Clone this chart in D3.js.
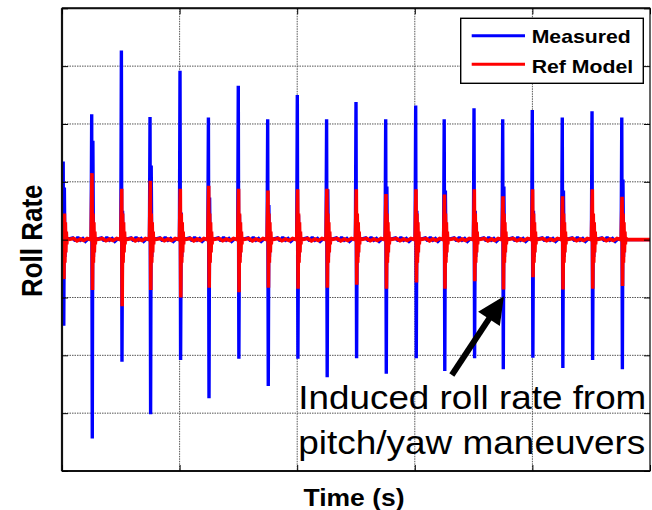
<!DOCTYPE html>
<html>
<head>
<meta charset="utf-8">
<script src="https://cdn.jsdelivr.net/npm/d3@7"></script>
<style>
  html, body { margin: 0; padding: 0; background: #fff; }
  svg { display: block; }
  text { font-family: "Liberation Sans", Arial, Helvetica, sans-serif; }
</style>
</head>
<body>
<svg id="chart" width="652" height="510"></svg>
<script>
// ---- Data -------------------------------------------------------------
// Times (s) at which each pitch/yaw maneuver starts
const eventTimes = [0.2, 5.05, 10.1, 14.97, 20.07, 24.9, 29.98, 34.98, 40.02, 45.0,
                    50.0, 55.05, 60.15, 65.0, 70.07, 74.95, 79.98, 85.08, 90.14, 95.2];

// Measured roll rate: positive peak, negative peak and secondary rebound per maneuver
const measuredPeak     = [1.35, 2.17, 3.27, 2.12, 2.92, 2.11, 2.66, 2.08, 2.50, 2.08,
                          2.38, 2.08, 2.32, 2.08, 2.27, 2.08, 2.24, 2.11, 2.22, 2.11];
const measuredTrough   = [-1.49, -3.44, -2.11, -3.02, -2.08, -2.74, -2.06, -2.53, -2.06, -2.38,
                          -2.05, -2.32, -2.05, -2.27, -2.05, -2.24, -2.04, -2.22, -2.08, -2.24];
const measuredRebound  = [0.90, 1.71, 0.50, 1.28, 0.47, 0.73, 0.43, 0.60, 0.42, 0.87,
                          0.38, 0.92, 0.50, 0.85, 0.50, 0.92, 0.50, 0.85, 0.38, 1.04];

// Reference model roll rate: positive and negative peak per maneuver
const refPeak   = [0.36, 1.15, 0.88, 1.02, 0.88, 0.93, 0.88, 0.85, 0.87, 0.88,
                   0.87, 0.79, 0.87, 0.78, 0.87, 0.75, 0.87, 0.75, 0.87, 0.74];
const refTrough = [-0.68, -0.87, -1.15, -0.87, -1.00, -0.83, -0.91, -0.83, -0.85, -0.83,
                   -0.78, -0.85, -0.74, -0.85, -0.72, -0.86, -0.65, -0.86, -0.85, -0.80];

// Decaying oscillation that follows each model peak
const refRinging = [0.45, -0.40, 0.30, -0.22, 0.14, -0.08, 0.04];
const measuredRinging = [-0.30, 0.12, -0.04];

// Small sensor ripple on the zero line between maneuvers
const measuredRipple = [0.03, -0.02, 0.04, -0.01, 0.02, -0.03, 0.01];
const refRipple      = [0.02, -0.02, 0.01, -0.015, 0.02];

// Axis ticks (labels hidden)
const timeTicks = [0, 20, 40, 60, 80, 100];
const rateTicks = [-4, -3, -2, -1, 0, 1, 2, 3, 4];

// Annotation arrow (time, rate): tail -> tip
const arrowTail = [66.3, -2.34];
const arrowTip  = [75.15, -0.98];

// ---- Layout -----------------------------------------------------------
const svg = d3.select("#chart");
const plot = { left: 62, right: 650, top: 8.3, bottom: 471 };

const x = d3.scaleLinear().domain([0, 100]).range([plot.left, plot.right]);
const y = d3.scaleLinear().domain([-4, 4]).range([plot.bottom, plot.top]);

svg.append("defs").append("clipPath").attr("id", "plotClip")
  .append("rect")
  .attr("x", plot.left).attr("y", plot.top)
  .attr("width", plot.right - plot.left).attr("height", plot.bottom - plot.top);

// ---- Grid -------------------------------------------------------------
const grid = svg.append("g").attr("class", "grid");
grid.selectAll("line.v").data(timeTicks.slice(1, -1)).enter().append("line")
  .attr("x1", d => x(d)).attr("x2", d => x(d))
  .attr("y1", plot.top).attr("y2", plot.bottom)
  .attr("stroke", "#555").attr("stroke-width", 1).attr("stroke-dasharray", "1.5,1");
grid.selectAll("line.h").data(rateTicks.slice(1, -1)).enter().append("line")
  .attr("y1", d => y(d)).attr("y2", d => y(d))
  .attr("x1", plot.left).attr("x2", plot.right)
  .attr("stroke", "#555").attr("stroke-width", 1).attr("stroke-dasharray", "1.5,1");

// ---- Series -----------------------------------------------------------
function buildSeries(peaks, troughs, extra, ringing, ripple, peakOffset, step) {
  const pts = [[0, 0]];
  eventTimes.forEach((t, i) => {
    // ripple on the flat section leading up to this maneuver
    const prevEnd = i === 0 ? 0 : eventTimes[i - 1] + 1.2;
    const gap = t - 0.2 - prevEnd;
    if (gap > 0) {
      ripple.forEach((v, k) => pts.push([prevEnd + gap * (k + 1) / (ripple.length + 1), v]));
    }
    pts.push([t - 0.1, 0]);
    pts.push([t + peakOffset, peaks[i]]);
    pts.push([t + peakOffset + step, troughs[i]]);
    let tt = t + peakOffset + step;
    if (extra) { tt += step; pts.push([tt, extra[i]]); }
    ringing.forEach(v => { tt += step; pts.push([tt, v]); });
    pts.push([tt + step, 0]);
  });
  pts.push([100, 0]);
  return pts;
}

const measuredPts = buildSeries(measuredPeak, measuredTrough, measuredRebound,
                                measuredRinging, measuredRipple, 0, 0.1);
const refPts = buildSeries(refPeak, refTrough, null,
                           refRinging, refRipple, 0.05, 0.08);

const line = d3.line().x(d => x(d[0])).y(d => y(d[1]));

const series = svg.append("g").attr("clip-path", "url(#plotClip)");
series.append("path").datum(measuredPts)
  .attr("d", line).attr("fill", "none")
  .attr("stroke", "#0000ff").attr("stroke-width", 3.4)
  .attr("stroke-linejoin", "miter").attr("stroke-miterlimit", 1.5);
series.append("path").datum(refPts)
  .attr("d", line).attr("fill", "none")
  .attr("stroke", "#ff0000").attr("stroke-width", 3.6)
  .attr("stroke-linejoin", "miter").attr("stroke-miterlimit", 1.5);

// ---- Frame and ticks --------------------------------------------------
const frame = svg.append("g");
frame.append("rect")
  .attr("x", plot.left).attr("y", plot.top)
  .attr("width", plot.right - plot.left).attr("height", plot.bottom - plot.top)
  .attr("fill", "none").attr("stroke", "#000").attr("stroke-width", 1.2);
frame.append("line").attr("x1", plot.left).attr("x2", plot.left)
  .attr("y1", plot.top).attr("y2", plot.bottom).attr("stroke", "#111").attr("stroke-width", 2.2);
frame.append("line").attr("x1", plot.left).attr("x2", plot.right)
  .attr("y1", plot.bottom).attr("y2", plot.bottom).attr("stroke", "#111").attr("stroke-width", 2.2);
frame.append("line").attr("x1", plot.left).attr("x2", plot.right)
  .attr("y1", plot.top).attr("y2", plot.top).attr("stroke", "#111").attr("stroke-width", 2);

const tickLen = 6;
const axLeft = d3.axisLeft(y).tickValues(rateTicks).tickSize(-tickLen).tickFormat("");
const axRight = d3.axisRight(y).tickValues(rateTicks).tickSize(-tickLen).tickFormat("");
const axBottom = d3.axisBottom(x).tickValues(timeTicks).tickSize(-tickLen).tickFormat("");
const axTop = d3.axisTop(x).tickValues(timeTicks).tickSize(-tickLen).tickFormat("");
[[axLeft, `translate(${plot.left},0)`], [axRight, `translate(${plot.right},0)`],
 [axBottom, `translate(0,${plot.bottom})`], [axTop, `translate(0,${plot.top})`]]
  .forEach(([ax, tr]) => {
    const g = svg.append("g").attr("transform", tr).call(ax);
    g.select(".domain").remove();
    g.selectAll(".tick line").attr("stroke", "#000").attr("stroke-width", 1);
  });

// ---- Axis titles ------------------------------------------------------
svg.append("text")
  .attr("x", 303.5).attr("y", 505.5)
  .attr("font-size", 24).attr("font-weight", "bold")
  .attr("textLength", 101).attr("lengthAdjust", "spacingAndGlyphs")
  .text("Time (s)");

svg.append("text")
  .attr("transform", "translate(41.5,240.8) scale(1.12,1) rotate(-90)")
  .attr("text-anchor", "middle")
  .attr("font-size", 26).attr("font-weight", "bold")
  .text("Roll Rate");

// ---- Legend -----------------------------------------------------------
const legend = svg.append("g");
legend.append("rect")
  .attr("x", 460.7).attr("y", 18.3).attr("width", 182.6).attr("height", 65)
  .attr("fill", "#fff").attr("stroke", "#000").attr("stroke-width", 1.4);
const legendItems = [
  { name: "Measured", color: "#0000ff", ly: 35.7, ty: 43.3, len: 99 },
  { name: "Ref Model", color: "#ff0000", ly: 64.3, ty: 73.3, len: 101.5 }
];
legendItems.forEach(it => {
  legend.append("line")
    .attr("x1", 471.7).attr("x2", 525).attr("y1", it.ly).attr("y2", it.ly)
    .attr("stroke", it.color).attr("stroke-width", 3);
  legend.append("text")
    .attr("x", 531.7).attr("y", it.ty)
    .attr("font-size", 18.5).attr("font-weight", "bold")
    .attr("textLength", it.len).attr("lengthAdjust", "spacingAndGlyphs")
    .text(it.name);
});

// ---- Annotation -------------------------------------------------------
const note = svg.append("g");
note.append("text")
  .attr("x", 298.3).attr("y", 409.3)
  .attr("font-size", 34)
  .attr("textLength", 348).attr("lengthAdjust", "spacingAndGlyphs")
  .text("Induced roll rate from");
note.append("text")
  .attr("x", 298.3).attr("y", 453.5)
  .attr("font-size", 34)
  .attr("textLength", 347).attr("lengthAdjust", "spacingAndGlyphs")
  .text("pitch/yaw maneuvers");

// Arrow from the caption up to a model trough
const tx = x(arrowTail[0]), ty = y(arrowTail[1]);
const hx = x(arrowTip[0]), hy = y(arrowTip[1]);
const ang = Math.atan2(hy - ty, hx - tx);
const headLen = 27, headHalf = 13;
const bx = hx - headLen * Math.cos(ang), by = hy - headLen * Math.sin(ang);
note.append("line")
  .attr("x1", tx).attr("y1", ty).attr("x2", bx + 2 * Math.cos(ang)).attr("y2", by + 2 * Math.sin(ang))
  .attr("stroke", "#000").attr("stroke-width", 6);
note.append("path")
  .attr("d", d3.line()([
    [hx, hy],
    [bx + headHalf * Math.sin(ang), by - headHalf * Math.cos(ang)],
    [bx - headHalf * Math.sin(ang), by + headHalf * Math.cos(ang)]
  ]) + "Z")
  .attr("fill", "#000");
</script>
</body>
</html>
